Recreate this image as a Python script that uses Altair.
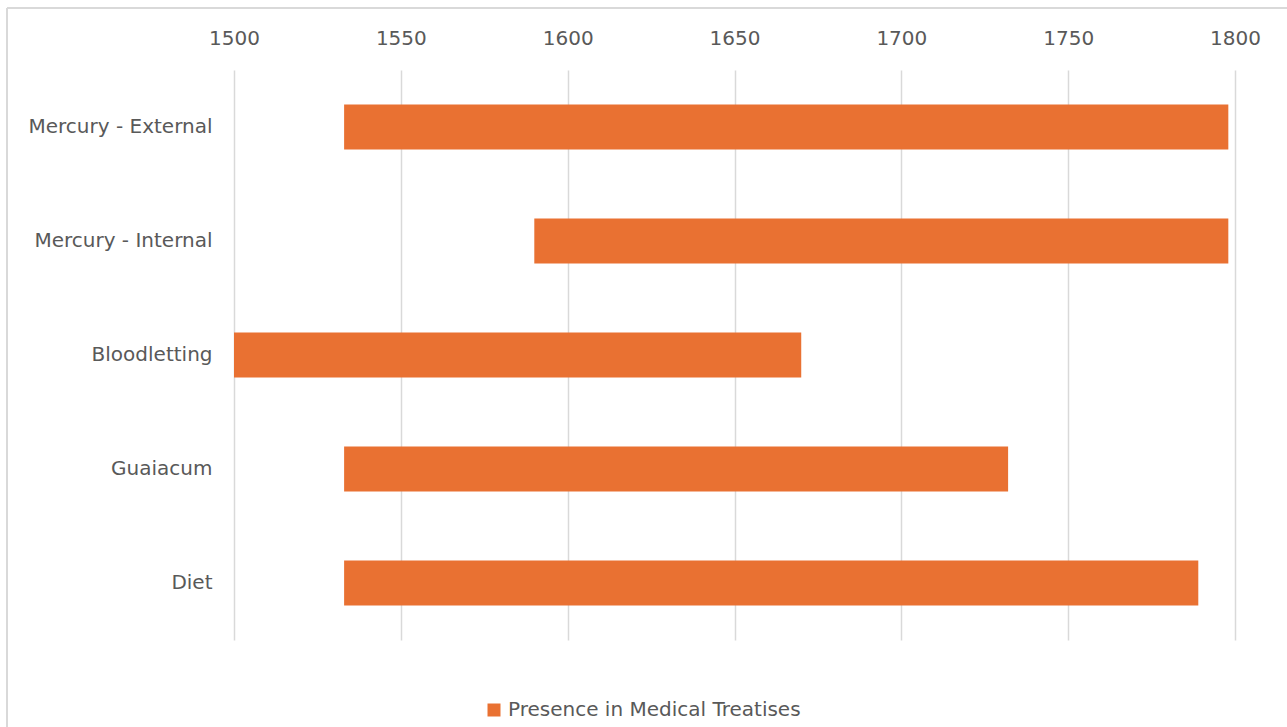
import altair as alt
import pandas as pd

treatments = ["Mercury - External", "Mercury - Internal", "Bloodletting", "Guaiacum", "Diet"]
start_years = [1533, 1590, 1500, 1533, 1533]
end_years = [1798, 1798, 1670, 1732, 1789]
series_name = "Presence in Medical Treatises"
x_ticks = [1500, 1550, 1600, 1650, 1700, 1750, 1800]

df = pd.DataFrame({
    "treatment": treatments,
    "start": start_years,
    "end": end_years,
    "series": [series_name] * len(treatments),
})

FONT = "DejaVu Sans"
FS = 20
GRAY = "#595959"
W, H = 1001, 570
PL, PT = 234, 70

bars = alt.Chart(df).mark_bar(color="#E97132").encode(
    y=alt.Y("treatment:N", sort=treatments, title=None,
            scale=alt.Scale(paddingInner=0.605, paddingOuter=0.3025),
            axis=alt.Axis(ticks=False, domain=False, labelPadding=22, labelLimit=0,
                          labelFontSize=FS, labelColor=GRAY, labelFont=FONT)),
    x=alt.X("start:Q", title=None,
            scale=alt.Scale(domain=[1500, 1800], nice=False, zero=False),
            axis=alt.Axis(orient="top", values=x_ticks, format="d", ticks=False,
                          domain=False, grid=True, gridColor="#d9d9d9", gridWidth=1.5,
                          labelFlush=False, labelOverlap=False,
                          labelPadding=22, labelFontSize=FS, labelColor=GRAY,
                          labelFont=FONT)),
    x2="end:Q",
    color=alt.Color("series:N", title=None,
                    scale=alt.Scale(range=["#E97132"]),
                    legend=alt.Legend(orient="none", legendX=250, legendY=630,
                                      symbolType="square", symbolSize=169,
                                      symbolStrokeWidth=0, symbolFillColor="#E97132",
                                      labelFontSize=FS, labelColor=GRAY, labelFont=FONT,
                                      labelLimit=0,
                                      padding=0, symbolOffset=0, labelOffset=4)),
)

one = pd.DataFrame({"a": [0]})
left_border = alt.Chart(one).mark_rule(color="#d9d9d9", strokeWidth=2, clip=False).encode(
    x=alt.value(7 - PL), y=alt.value(8 - PT), y2=alt.value(727 - PT + 5)
)
top_border = alt.Chart(one).mark_rule(color="#d9d9d9", strokeWidth=2, clip=False).encode(
    x=alt.value(7 - PL), x2=alt.value(1287 - PL + 5), y=alt.value(8 - PT)
)

chart = alt.layer(bars, left_border, top_border).properties(
    width=W, height=H,
    autosize=alt.AutoSizeParams(type="none"),
    padding={"left": PL, "top": PT, "right": 1287 - PL - W, "bottom": 727 - PT - H},
    background="white",
).configure_view(stroke=None)

chart.save("out.html", embed_options={"renderer": "svg", "actions": False})
